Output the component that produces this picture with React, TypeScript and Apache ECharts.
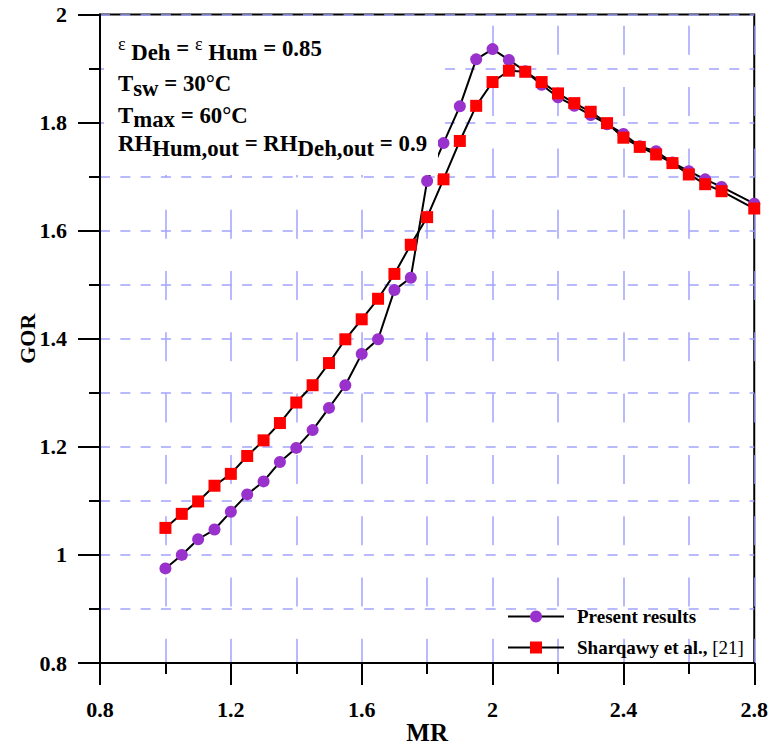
import React, { useEffect, useRef } from 'react';
import * as echarts from 'echarts';

// ---------- data ----------
const mrValues = [
  1.0, 1.05, 1.1, 1.15, 1.2, 1.25, 1.3, 1.35, 1.4, 1.45, 1.5, 1.55, 1.6, 1.65,
  1.7, 1.75, 1.8, 1.85, 1.9, 1.95, 2.0, 2.05, 2.1, 2.15, 2.2, 2.25, 2.3, 2.35,
  2.4, 2.45, 2.5, 2.55, 2.6, 2.65, 2.7, 2.8,
];
const presentGOR = [
  0.975, 1.0, 1.029, 1.047, 1.08, 1.112, 1.136, 1.172, 1.198, 1.231, 1.272, 1.314,
  1.372, 1.399, 1.49, 1.513, 1.692, 1.762, 1.83, 1.917, 1.936, 1.916, 1.895, 1.87,
  1.847, 1.831, 1.814, 1.797, 1.779, 1.756, 1.747, 1.726, 1.71, 1.695, 1.681, 1.65,
];
const sharqawyGOR = [
  1.05, 1.076, 1.099, 1.128, 1.15, 1.183, 1.212, 1.244, 1.282, 1.314, 1.355, 1.399,
  1.436, 1.474, 1.52, 1.574, 1.625, 1.695, 1.766, 1.831, 1.875, 1.896, 1.894, 1.875,
  1.854, 1.836, 1.82, 1.799, 1.772, 1.755, 1.741, 1.725, 1.704, 1.686, 1.673, 1.641,
];
const seriesNames = ['Present results', 'Sharqawy et al., [21]'];
const xTickLabels = ['0.8', '1.2', '1.6', '2', '2.4', '2.8'];
const yTickLabels = ['0.8', '1', '1.2', '1.4', '1.6', '1.8', '2'];

// annotation text pieces and their role
const annotationText = [
  ['ε', ' Deh', ' = ', 'ε', ' Hum', ' = 0.85'],
  ['T', 'sw', ' = 30°C'],
  ['T', 'max', ' = 60°C'],
  ['RH', 'Hum,out', ' = RH', 'Deh,out', ' = 0.9'],
];
const annotationRoles = [
  ['eps', 'sub', 'main', 'eps', 'sub', 'main'],
  ['main', 'sub', 'main'],
  ['main', 'sub', 'main'],
  ['main', 'sub', 'main', 'sub', 'main'],
];

// ---------- style ----------
const SERIF = '"Liberation Serif", "Times New Roman", serif';
const PURPLE = '#9932cc';
const RED = '#ff0000';
const GRID_BLUE = '#a3a3ff';

const roleStyle: Record<string, { size: number; weight: string; dy: number }> = {
  main: { size: 22.8, weight: 'bold', dy: 0 },
  sub: { size: 22.8, weight: 'bold', dy: 4.5 },
  eps: { size: 18, weight: 'normal', dy: -6 },
};
const lineBaselines = [56, 91.5, 123, 151.7];
const annotX = 118;

function measure(ctx: CanvasRenderingContext2D | null, text: string, font: string) {
  if (!ctx) return text.length * 11;
  ctx.font = font;
  return ctx.measureText(text).width;
}

function buildAnnotation() {
  const canvas = document.createElement('canvas');
  const ctx = canvas.getContext('2d');
  const els: any[] = [
    {
      type: 'rect',
      shape: { x: 104, y: 17, width: 334, height: 158 },
      style: { fill: '#ffffff' },
      z: 90,
      silent: true,
    },
  ];
  annotationText.forEach((pieces, li) => {
    let x = annotX;
    pieces.forEach((piece, pi) => {
      const st = roleStyle[annotationRoles[li][pi]];
      const font = `${st.weight} ${st.size}px ${SERIF}`;
      const trimmedStart = piece.replace(/^\s+/, '');
      const lead = piece.length - trimmedStart.length;
      const leadW = lead > 0 ? measure(ctx, piece.slice(0, lead), font) : 0;
      const baseline = lineBaselines[li] + st.dy;
      els.push({
        type: 'text',
        x: x + leadW,
        y: baseline - 0.34 * st.size,
        z: 100,
        silent: true,
        style: {
          text: piece.trim(),
          fill: '#000',
          font,
          fontFamily: SERIF,
          fontSize: st.size,
          fontWeight: st.weight,
          verticalAlign: 'middle',
          align: 'left',
        },
      });
      x += measure(ctx, piece, font);
    });
  });
  return els;
}

const fmtTick = (labels: string[]) => (v: number) => {
  const s = String(+v.toFixed(2));
  return labels.includes(s) ? s : '';
};

export default function App() {
  const ref = useRef<HTMLDivElement>(null);
  useEffect(() => {
    if (!ref.current) return;
    const chart = echarts.init(ref.current, undefined, { renderer: 'svg' });
    const axisText = { fontFamily: SERIF, fontWeight: 'bold' as const, fontSize: 22, color: '#000' };
    const blackLine = { color: '#000', width: 2 };
    const vGrid = { color: GRID_BLUE, width: 1.5, type: [29, 32.3], dashOffset: 49.8 };
    const hGrid = { color: GRID_BLUE, width: 1.5, type: [10, 10.3] };
    const option: any = {
      animation: false,
      grid: {
        left: 100,
        right: 14.5,
        top: 14.5,
        bottom: 82,
        show: true,
        borderColor: '#000',
        borderWidth: 2,
        backgroundColor: 'transparent',
      },
      xAxis: {
        type: 'value',
        min: 0.8,
        max: 2.8,
        interval: 0.4,
        name: 'MR',
        nameLocation: 'middle',
        nameGap: 57,
        nameMoveOverlap: false,
        nameTextStyle: { fontFamily: SERIF, fontWeight: 'bold', fontSize: 25, color: '#000' },
        axisLine: { show: true, onZero: false, lineStyle: blackLine },
        axisTick: { show: true, inside: false, length: 22, lineStyle: blackLine },
        minorTick: { show: true, splitNumber: 2, length: 11, lineStyle: blackLine },
        axisLabel: { ...axisText, margin: 35, formatter: fmtTick(xTickLabels) },
        splitLine: { show: true, lineStyle: vGrid },
        minorSplitLine: { show: true, lineStyle: vGrid },
      },
      yAxis: {
        type: 'value',
        min: 0.8,
        max: 2,
        interval: 0.2,
        name: 'GOR',
        nameLocation: 'middle',
        nameGap: 62,
        nameMoveOverlap: false,
        nameTextStyle: { fontFamily: SERIF, fontWeight: 'bold', fontSize: 22, color: '#000' },
        axisLine: { show: true, onZero: false, lineStyle: blackLine },
        axisTick: { show: true, inside: false, length: 22, lineStyle: blackLine },
        minorTick: { show: true, splitNumber: 2, length: 11, lineStyle: blackLine },
        axisLabel: { ...axisText, margin: 33, formatter: fmtTick(yTickLabels) },
        splitLine: { show: true, lineStyle: hGrid },
        minorSplitLine: { show: true, lineStyle: hGrid },
      },
      legend: {
        data: seriesNames,
        orient: 'vertical',
        left: 502,
        top: 602,
        itemWidth: 56,
        itemHeight: 15,
        itemGap: 12,
        selectedMode: false,
        formatter: (name: string) =>
          name === seriesNames[1] ? '{b|Sharqawy et al., }{n|[21]}' : '{b|' + name + '}',
        textStyle: {
          fontFamily: SERIF,
          fontSize: 19,
          color: '#000',
          padding: [0, 0, 0, 8],
          rich: {
            b: { fontFamily: SERIF, fontSize: 19, fontWeight: 'bold', color: '#000' },
            n: { fontFamily: SERIF, fontSize: 19, fontWeight: 'normal', color: '#000' },
          },
        },
      },
      series: [
        {
          name: seriesNames[0],
          type: 'line',
          data: mrValues.map((x, i) => [x, presentGOR[i]]),
          symbol: 'circle',
          symbolSize: 12,
          itemStyle: { color: PURPLE },
          lineStyle: { color: '#000', width: 2 },
          z: 3,
        },
        {
          name: seriesNames[1],
          type: 'line',
          data: mrValues.map((x, i) => [x, sharqawyGOR[i]]),
          symbol: 'rect',
          symbolSize: 12,
          itemStyle: { color: RED },
          lineStyle: { color: '#000', width: 2 },
          z: 4,
        },
      ],
      graphic: { elements: buildAnnotation() },
    };
    chart.setOption(option);
    return () => chart.dispose();
  }, []);
  return (
    <div
      ref={ref}
      style={{ position: 'fixed', left: 0, top: 0, width: 771, height: 750, background: '#fff' }}
    />
  );
}
